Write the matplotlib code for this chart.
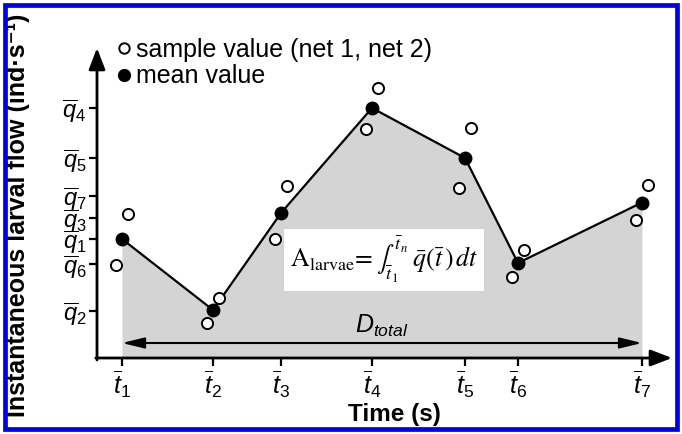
import numpy as np
import matplotlib
matplotlib.use('Agg')
import matplotlib.pyplot as plt
from matplotlib.lines import Line2D
from matplotlib.patches import Rectangle
import matplotlib.transforms as mtransforms

plt.rcParams['font.family'] = ['Liberation Sans', 'DejaVu Sans']
plt.rcParams['mathtext.fontset'] = 'custom'
plt.rcParams['mathtext.it'] = 'Liberation Sans:italic'
plt.rcParams['mathtext.rm'] = 'Liberation Sans'
plt.rcParams['mathtext.bf'] = 'Liberation Sans:bold'

# sampling times (arbitrary units)
t = [1.0, 4.64, 7.36, 11.0, 14.72, 16.84, 21.8]
t_labels = [r'$\overline{t}_%d$' % (i + 1) for i in range(7)]

# instantaneous larval flow (arbitrary units)
net1 = [5.76, 2.40, 6.88, 10.80, 9.20, 4.32, 6.92]
net2 = [3.72, 1.40, 4.76, 9.16, 6.80, 3.24, 5.52]
q_mean = [4.76, 1.92, 5.80, 10.00, 8.00, 3.80, 6.22]

# y tick positions for the mean levels
q_ticks = [4.76, 1.88, 5.60, 10.00, 8.00, 3.76, 6.48]
q_labels = [r'$\overline{q}_%d$' % (i + 1) for i in range(7)]

fig = plt.figure(figsize=(6.82, 4.34), dpi=100)
ax = fig.add_axes([97 / 682, 76 / 434, 575 / 682, 310 / 434])
ax.set_xlim(0, 23)
ax.set_ylim(0, 12.4)
for s in ax.spines.values():
    s.set_visible(False)

# shaded area under the mean curve
ax.fill_between(t, q_mean, 0, color='#d4d4d4', lw=0, zorder=1)
ax.plot(t, q_mean, color='black', lw=1.6, zorder=3)

# samples drawn slightly left/right of the mean
right = ax.transData + mtransforms.ScaledTranslation(4 / 72, 0, fig.dpi_scale_trans)
left = ax.transData + mtransforms.ScaledTranslation(-4 / 72, 0, fig.dpi_scale_trans)
ax.plot(t, net1, 'o', ms=8, mfc='white', mec='black', mew=1.4, transform=right, zorder=4, clip_on=False)
ax.plot(t, net2, 'o', ms=8, mfc='white', mec='black', mew=1.4, transform=left, zorder=4, clip_on=False)
ax.plot(t, q_mean, 'o', ms=9, color='black', zorder=5)

# axes with arrows
ax.annotate('', xy=(23, 0), xytext=(-0.05, 0), xycoords='data',
            arrowprops=dict(arrowstyle='-|>,head_length=0.65,head_width=0.25',
                            lw=2, color='black', shrinkA=0, shrinkB=0, mutation_scale=20),
            annotation_clip=False)
ax.annotate('', xy=(0, 12.4), xytext=(0, -0.08), xycoords='data',
            arrowprops=dict(arrowstyle='-|>,head_length=0.65,head_width=0.25',
                            lw=2, color='black', shrinkA=0, shrinkB=0, mutation_scale=20),
            annotation_clip=False)

ax.set_xticks(t)
ax.set_xticklabels(t_labels, fontsize=18)
ax.set_yticks(q_ticks)
ax.set_yticklabels(q_labels, fontsize=17)
ax.tick_params(direction='out', length=5.5, width=1.6, pad=2)

# D_total double arrow
ax.annotate('', xy=(t[-1], 0.6), xytext=(t[0], 0.6),
            arrowprops=dict(arrowstyle='<|-|>,head_length=0.9,head_width=0.22',
                            lw=1.5, color='black', shrinkA=0, shrinkB=0, mutation_scale=15))
ax.text((t[0] + t[-1]) / 2, 0.75, r'$D_{total}$', fontsize=18, ha='center', va='bottom')

# integral formula box
ax.text(11.48, 3.92,
        r'$\mathrm{A}_{\mathrm{larvae}}\!=\int_{\bar{t}_1}^{\bar{t}_n}\;\bar{q}(\bar{t}\,)\,dt$',
        math_fontfamily='stix', fontsize=18.5, ha='center', va='center', zorder=6,
        bbox=dict(boxstyle='square,pad=0.22', fc='white', ec='none'))

# legend
handles = [Line2D([], [], ls='none', marker='o', ms=7.5, mfc='white', mec='black', mew=1.4),
           Line2D([], [], ls='none', marker='o', ms=8.5, color='black')]
ax.legend(handles, ['sample value (net 1, net 2)', 'mean value'], loc='upper left',
          bbox_to_anchor=(117 / 682, 0.912), bbox_transform=fig.transFigure,
          frameon=False, fontsize=18, handlelength=0.6, handletextpad=0.18,
          labelspacing=0.09, borderpad=0, borderaxespad=0)

fig.text(0.027, 0.505, 'Instantaneous larval flow (ind·s⁻¹)', rotation=90,
         ha='center', va='center', fontsize=18, fontweight='bold')
fig.text(0.578, 0.046, 'Time (s)', ha='center', va='center', fontsize=17.5, fontweight='bold')

# blue frame round the picture
fig.patches.append(Rectangle((5 / 682, 5 / 434), 672 / 682, 424 / 434, transform=fig.transFigure,
                             fill=False, ec='#0000f0', lw=3.4, zorder=10))

fig.savefig('out.png', dpi=100)
